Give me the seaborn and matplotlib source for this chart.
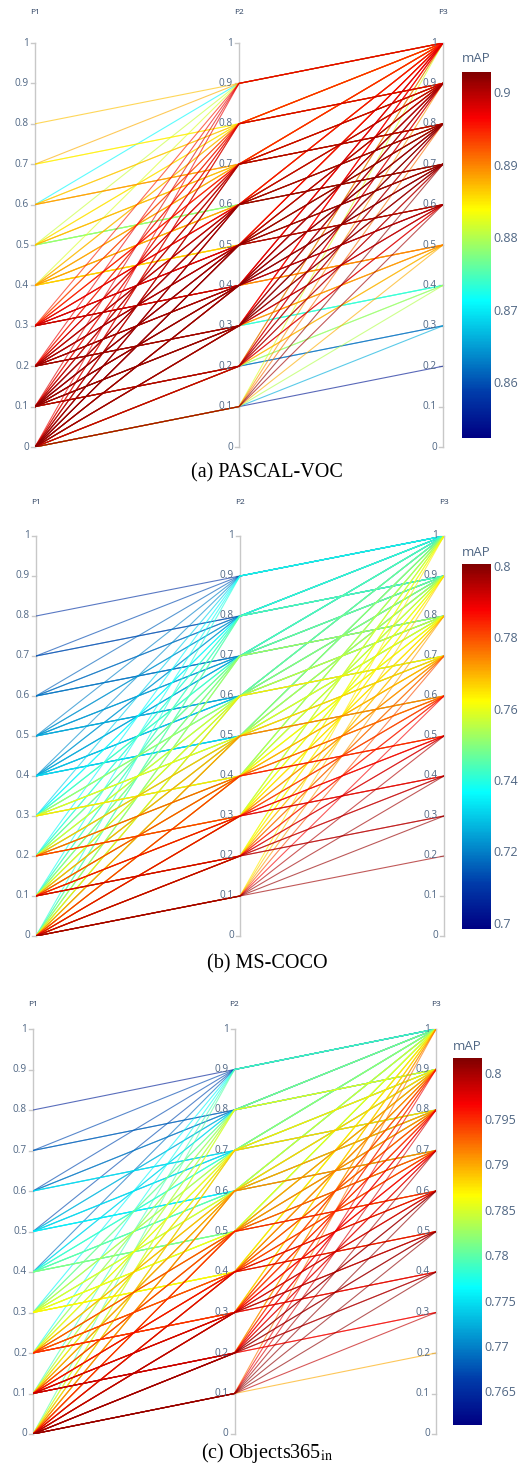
import itertools
import matplotlib
import matplotlib.pyplot as plt
import matplotlib.colors as mcolors
from matplotlib.cm import ScalarMappable
import seaborn as sns
import pandas as pd
import numpy as np

matplotlib.rcParams["font.family"] = ["Open Sans", "DejaVu Sans"]
matplotlib.rcParams["mathtext.fontset"] = "stix"

W, H = 526, 1479

# axis values 0 .. 1 in tenths; every line is a triplet P1 < P2 < P3
levels = [i / 10 for i in range(11)]
triplets = list(itertools.combinations(range(11), 3))

# mAP per triplet, ordered (P1, P2, P3) lexicographically, one row per (P1, P2)
voc_map = [
    # P1 = 0
    0.855, 0.866, 0.880, 0.888, 0.901, 0.902, 0.891, 0.889, 0.882,
    0.862, 0.879, 0.888, 0.898, 0.900, 0.899, 0.897, 0.881,
    0.873, 0.889, 0.899, 0.901, 0.902, 0.900, 0.896,
    0.890, 0.900, 0.902, 0.902, 0.901, 0.898,
    0.901, 0.902, 0.902, 0.901, 0.897,
    0.902, 0.902, 0.900, 0.896,
    0.901, 0.900, 0.895,
    0.899, 0.895,
    0.897,
    # P1 = 0.1
    0.862, 0.878, 0.887, 0.898, 0.900, 0.901, 0.899, 0.893,
    0.874, 0.889, 0.900, 0.902, 0.902, 0.901, 0.897,
    0.890, 0.901, 0.902, 0.902, 0.901, 0.898,
    0.901, 0.902, 0.902, 0.900, 0.897,
    0.902, 0.901, 0.900, 0.896,
    0.901, 0.899, 0.895,
    0.898, 0.895,
    0.898,
    # P1 = 0.2
    0.872, 0.888, 0.899, 0.901, 0.902, 0.900, 0.896,
    0.889, 0.900, 0.902, 0.901, 0.900, 0.897,
    0.900, 0.901, 0.901, 0.899, 0.896,
    0.901, 0.900, 0.898, 0.895,
    0.899, 0.898, 0.894,
    0.897, 0.893,
    0.897,
    # P1 = 0.3
    0.888, 0.898, 0.900, 0.899, 0.897, 0.895,
    0.898, 0.899, 0.898, 0.896, 0.894,
    0.898, 0.897, 0.895, 0.893,
    0.896, 0.894, 0.892,
    0.894, 0.891,
    0.895,
    # P1 = 0.4
    0.886, 0.887, 0.886, 0.885, 0.884,
    0.889, 0.888, 0.887, 0.885,
    0.889, 0.888, 0.886,
    0.888, 0.886,
    0.882,
    # P1 = 0.5
    0.879, 0.878, 0.878, 0.877,
    0.888, 0.887, 0.885,
    0.886, 0.884,
    0.881,
    # P1 = 0.6
    0.889, 0.888, 0.887,
    0.887, 0.886,
    0.871,
    # P1 = 0.7
    0.884, 0.885,
    0.888,
    # P1 = 0.8
    0.887,
]

coco_map = [
    # P1 = 0
    0.797, 0.798, 0.797, 0.795, 0.788, 0.780, 0.772, 0.767, 0.764,
    0.795, 0.794, 0.792, 0.785, 0.777, 0.769, 0.764, 0.761,
    0.791, 0.789, 0.782, 0.774, 0.766, 0.761, 0.758,
    0.786, 0.779, 0.771, 0.763, 0.758, 0.755,
    0.776, 0.768, 0.760, 0.755, 0.752,
    0.765, 0.757, 0.752, 0.749,
    0.754, 0.749, 0.746,
    0.746, 0.743,
    0.740,
    # P1 = 0.1
    0.793, 0.792, 0.790, 0.783, 0.775, 0.767, 0.762, 0.759,
    0.789, 0.787, 0.780, 0.772, 0.764, 0.759, 0.756,
    0.784, 0.777, 0.769, 0.761, 0.756, 0.753,
    0.774, 0.766, 0.758, 0.753, 0.750,
    0.763, 0.755, 0.750, 0.747,
    0.752, 0.747, 0.744,
    0.744, 0.741,
    0.738,
    # P1 = 0.2
    0.783, 0.782, 0.778, 0.770, 0.762, 0.757, 0.754,
    0.782, 0.775, 0.767, 0.759, 0.754, 0.751,
    0.772, 0.764, 0.756, 0.751, 0.748,
    0.761, 0.753, 0.748, 0.745,
    0.750, 0.745, 0.742,
    0.742, 0.739,
    0.736,
    # P1 = 0.3
    0.766, 0.764, 0.761, 0.754, 0.749, 0.746,
    0.763, 0.759, 0.751, 0.746, 0.743,
    0.756, 0.748, 0.743, 0.740,
    0.745, 0.740, 0.737,
    0.737, 0.734,
    0.731,
    # P1 = 0.4
    0.733, 0.730, 0.728, 0.727, 0.726,
    0.730, 0.727, 0.726, 0.725,
    0.726, 0.725, 0.724,
    0.724, 0.723,
    0.722,
    # P1 = 0.5
    0.726, 0.725, 0.724, 0.723,
    0.724, 0.723, 0.723,
    0.723, 0.722,
    0.720,
    # P1 = 0.6
    0.719, 0.718, 0.718,
    0.718, 0.717,
    0.716,
    # P1 = 0.7
    0.714, 0.713,
    0.713,
    # P1 = 0.8
    0.709,
]

o365_map = [
    # P1 = 0
    0.790, 0.799, 0.801, 0.801, 0.801, 0.800, 0.798, 0.797, 0.792,
    0.797, 0.800, 0.801, 0.801, 0.798, 0.797, 0.795, 0.791,
    0.798, 0.800, 0.799, 0.797, 0.795, 0.794, 0.789,
    0.798, 0.798, 0.795, 0.794, 0.792, 0.788,
    0.796, 0.794, 0.792, 0.791, 0.786,
    0.792, 0.791, 0.789, 0.785,
    0.789, 0.788, 0.783,
    0.786, 0.782,
    0.780,
    # P1 = 0.1
    0.796, 0.799, 0.799, 0.799, 0.796, 0.797, 0.794, 0.790,
    0.797, 0.799, 0.798, 0.796, 0.794, 0.793, 0.788,
    0.797, 0.797, 0.794, 0.793, 0.791, 0.787,
    0.795, 0.793, 0.791, 0.790, 0.785,
    0.791, 0.790, 0.788, 0.784,
    0.788, 0.787, 0.782,
    0.785, 0.781,
    0.779,
    # P1 = 0.2
    0.794, 0.795, 0.794, 0.795, 0.794, 0.792, 0.787,
    0.794, 0.794, 0.793, 0.792, 0.790, 0.786,
    0.795, 0.792, 0.790, 0.789, 0.784,
    0.790, 0.789, 0.787, 0.783,
    0.787, 0.786, 0.781,
    0.784, 0.780,
    0.777,
    # P1 = 0.3
    0.787, 0.787, 0.786, 0.786, 0.785, 0.784,
    0.786, 0.786, 0.785, 0.785, 0.782,
    0.785, 0.785, 0.784, 0.781,
    0.784, 0.784, 0.779,
    0.782, 0.778,
    0.776,
    # P1 = 0.4
    0.782, 0.781, 0.780, 0.780, 0.778,
    0.780, 0.780, 0.779, 0.778,
    0.779, 0.778, 0.777,
    0.775, 0.774,
    0.769,
    # P1 = 0.5
    0.776, 0.775, 0.775, 0.774,
    0.775, 0.774, 0.773,
    0.773, 0.772,
    0.767,
    # P1 = 0.6
    0.775, 0.774, 0.773,
    0.770, 0.768,
    0.767,
    # P1 = 0.7
    0.769, 0.767,
    0.767,
    # P1 = 0.8
    0.764,
]

voc_ticks = [0.86, 0.87, 0.88, 0.89, 0.9]
coco_ticks = [0.7, 0.72, 0.74, 0.76, 0.78, 0.8]
o365_ticks = [0.765, 0.77, 0.775, 0.78, 0.785, 0.79, 0.795, 0.8]

# plotly "Jet" colorscale
jet = mcolors.LinearSegmentedColormap.from_list("plotly_jet", [
    (0.0, (0 / 255, 0 / 255, 131 / 255)),
    (0.125, (0 / 255, 60 / 255, 170 / 255)),
    (0.375, (5 / 255, 255 / 255, 255 / 255)),
    (0.625, (255 / 255, 255 / 255, 0 / 255)),
    (0.875, (250 / 255, 0 / 255, 0 / 255)),
    (1.0, (128 / 255, 0 / 255, 0 / 255)),
])

AXIS_COLOR = "#c8c8c8"
TICK_COLOR = "#506784"
TITLE_COLOR = "#2a3f5f"

panels = [
    dict(values=voc_map, vrange=(0.8523, 0.9028), ticks=voc_ticks,
         x0=35, x1=443, ytop=43, ybot=447, plabel_y=12,
         cb=(462, 72, 491, 438), cb_title_y=59, caption_y=473,
         caption="(a) PASCAL-VOC"),
    dict(values=coco_map, vrange=(0.6982, 0.8006), ticks=coco_ticks,
         x0=36, x1=444, ytop=536, ybot=936, plabel_y=503,
         cb=(462, 564, 491, 929), cb_title_y=552, caption_y=964,
         caption="(b) MS-COCO"),
    dict(values=o365_map, vrange=(0.7613, 0.8017), ticks=o365_ticks,
         x0=33, x1=436, ytop=1029, ybot=1434, plabel_y=1004,
         cb=(453, 1058, 482, 1425), cb_title_y=1046, caption_y=1453,
         caption=r"(c) Objects365$_{\mathrm{in}}$"),
]


def px_axes(fig, left, top, right, bottom):
    return fig.add_axes([left / W, 1 - bottom / H, (right - left) / W, (bottom - top) / H])


def long_frame(values):
    # unit id = rank of mAP, so the best configurations are drawn on top
    rank = np.argsort(np.argsort(values, kind="stable"), kind="stable")
    rows = []
    for k, (a, b, c) in enumerate(triplets):
        for pos, lv in enumerate((a, b, c)):
            rows.append({"id": int(rank[k]), "axis": pos, "value": levels[lv],
                         "mAP": values[k]})
    return pd.DataFrame(rows).sort_values(["id", "axis"])


fig = plt.figure(figsize=(W / 100, H / 100), dpi=100)

for p in panels:
    assert len(p["values"]) == len(triplets)
    norm = mcolors.Normalize(*p["vrange"])
    ax = px_axes(fig, p["x0"], p["ytop"], p["x1"], p["ybot"])
    df = long_frame(p["values"])
    sns.lineplot(data=df, x="axis", y="value", hue="mAP", units="id",
                 estimator=None, palette=jet, hue_norm=norm, sort=False,
                 legend=False, linewidth=0.8, alpha=0.65, ax=ax)
    ax.set_xlim(0, 2)
    ax.set_ylim(0, 1)
    ax.axis("off")

    dx = 2.0 / (p["x1"] - p["x0"])  # data units per pixel
    for i, name in enumerate(["P1", "P2", "P3"]):
        ax.plot([i, i], [0, 1], color=AXIS_COLOR, lw=1.0, zorder=1, clip_on=False)
        for v in levels:
            ax.plot([i - 4 * dx, i], [v, v], color=AXIS_COLOR, lw=1.0, clip_on=False, zorder=1)
            ax.text(i - 6 * dx, v, f"{v:g}", ha="right", va="center",
                    fontsize=7.2, color=TICK_COLOR, zorder=5)
        xpix = p["x0"] + i * (p["x1"] - p["x0"]) / 2
        fig.text(xpix / W, 1 - p["plabel_y"] / H, name, ha="center", va="center",
                 fontsize=6, color=TITLE_COLOR)

    l, t, r, b = p["cb"]
    cax = px_axes(fig, l, t, r, b)
    cbar = fig.colorbar(ScalarMappable(norm=norm, cmap=jet), cax=cax, ticks=p["ticks"])
    cbar.outline.set_visible(False)
    cbar.ax.set_yticklabels([f"{v:g}" for v in p["ticks"]])
    cax.tick_params(length=0, labelsize=9, colors=TICK_COLOR, pad=2)
    fig.text(l / W, 1 - p["cb_title_y"] / H, "mAP", ha="left", va="center",
             fontsize=9.5, color=TICK_COLOR)

    fig.text(267 / W, 1 - p["caption_y"] / H, p["caption"], ha="center", va="center",
             fontsize=14.5, family="Liberation Serif")

fig.savefig("out.png", dpi=100)
